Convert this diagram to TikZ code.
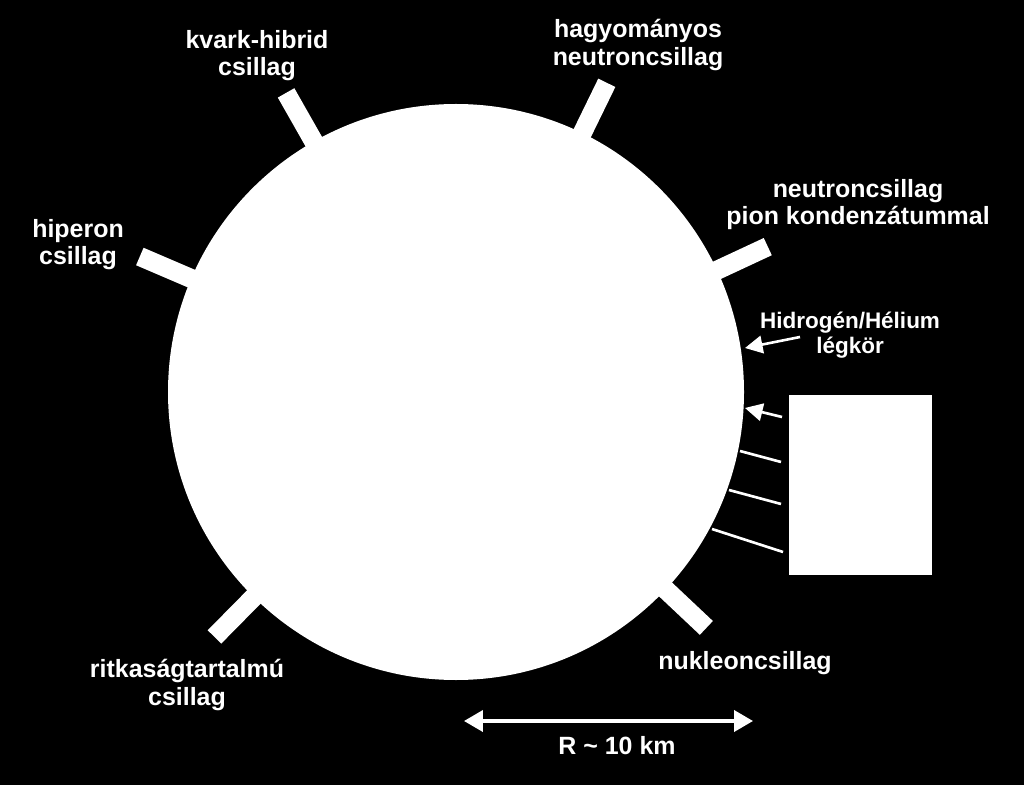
\documentclass[tikz,border=0pt]{standalone}
\usepackage{fontspec}
\setmainfont{Liberation Sans}
\usetikzlibrary{arrows.meta}

\tikzset{
  startext/.style={text=white, font=\fontsize{14.2}{15.4}\selectfont\bfseries, align=center},
  smalltext/.style={text=white, font=\fontsize{12.8}{14.4}\selectfont\bfseries, align=center},
  pointer/.style={white, line width=1.5pt, -{Triangle[length=10pt,width=10pt]}},
  ray/.style={white, line width=1.5pt},
}

\begin{document}
\begin{tikzpicture}[x=0.02cm, y=0.02cm]
 \fill[black] (0,0) rectangle (1024,785);
 \useasboundingbox (0,0) rectangle (1024,785);

 % the star and the bars
 \coordinate (center) at (456,393);
 \fill[white] (center) circle (288);
 \foreach \a in {119.6,64,25,156.8,-134.6,-43.3}
   \fill[white, shift={(center)}, rotate=\a] (270,-9.5) rectangle (344,9.5);

 % labels round the star
 \node[startext] (kvark) at (257,729) {kvark-hibrid\\csillag};
 \node[startext] (hagy) at (638,740) {hagyományos\\neutroncsillag};
 \node[startext] (pion) at (858,580) {neutroncsillag\\pion kondenzátummal};
 \node[startext] (hiperon) at (78,540) {hiperon\\csillag};
 \node[startext] (ritka) at (187,100) {ritkaságtartalmú\\csillag};
 \node[startext] (nukleon) at (745,122) {nukleoncsillag};

 % atmosphere
 \node[smalltext] (atmo) at (850,450) {Hidrogén/Hélium\\légkör};
 \coordinate (atmofrom) at (800,448);
 \coordinate (atmoto) at (745,437);
 \draw[pointer] (atmofrom) -- (atmoto);

 % zoomed box with rays
 \fill[white] (789,210) rectangle (932,390);
 \coordinate (r1a) at (782,368); \coordinate (r1b) at (745,377);
 \coordinate (r2a) at (781,323); \coordinate (r2b) at (740,334);
 \coordinate (r3a) at (781,281); \coordinate (r3b) at (729,295);
 \coordinate (r4a) at (783,233); \coordinate (r4b) at (712,256);
 \draw[pointer] (r1a) -- (r1b);
 \draw[ray] (r2a) -- (r2b);
 \draw[ray] (r3a) -- (r3b);
 \draw[ray] (r4a) -- (r4b);

 % radius
 \coordinate (rleft) at (464,64);
 \coordinate (rright) at (753,64);
 \draw[white, line width=2pt, {Triangle[length=10.8pt,width=12pt]}-{Triangle[length=10.8pt,width=12pt]}] (rleft) -- (rright);
 \node[startext] (radius) at (617,39) {R \textasciitilde{} 10 km};
\end{tikzpicture}
\end{document}
